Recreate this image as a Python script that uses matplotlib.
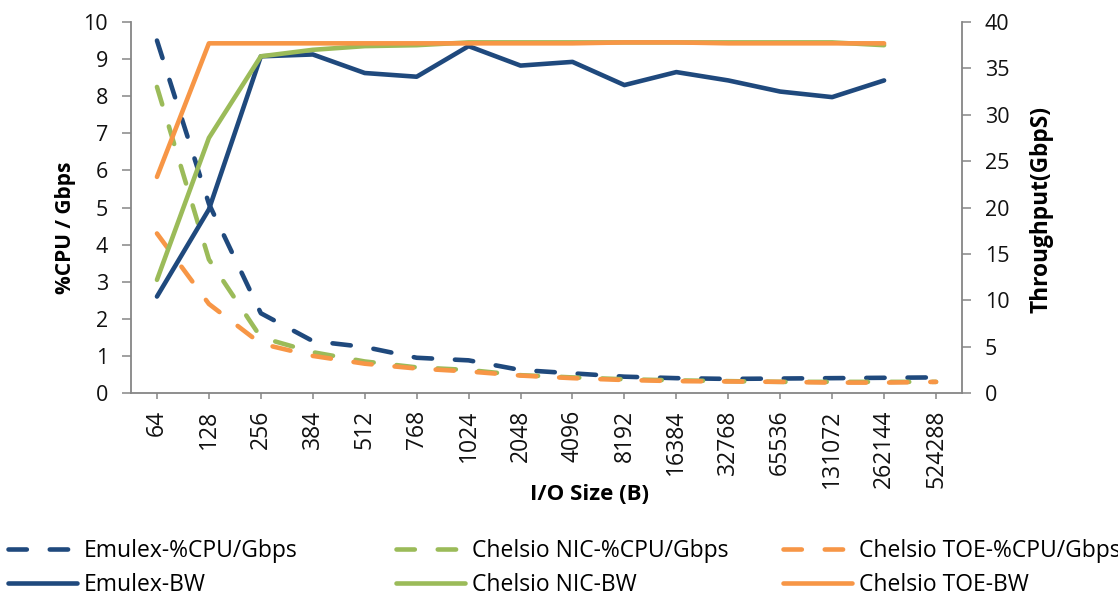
import numpy as np
import matplotlib
matplotlib.use("Agg")
import matplotlib.pyplot as plt
from matplotlib.lines import Line2D

plt.rcParams['font.family'] = ['Open Sans', 'DejaVu Sans']

# I/O sizes (bytes)
sizes = ['64', '128', '256', '384', '512', '768', '1024', '2048', '4096', '8192',
         '16384', '32768', '65536', '131072', '262144', '524288']

# %CPU per Gbps (left axis)
emulex_cpu = [9.5, 5.1, 2.15, 1.4, 1.24, 0.95, 0.88, 0.62, 0.53, 0.44,
              0.40, 0.38, 0.39, 0.40, 0.41, 0.42]
nic_cpu = [8.25, 3.6, 1.5, 1.1, 0.85, 0.69, 0.62, 0.48, 0.42, 0.37,
           0.34, 0.32, 0.30, 0.30, 0.30, 0.30]
toe_cpu = [4.3, 2.4, 1.33, 1.0, 0.79, 0.66, 0.58, 0.47, 0.40, 0.35,
           0.32, 0.31, 0.30, 0.28, 0.28, 0.30]

# throughput Gbps (right axis), no value for the last size
emulex_bw = [10.4, 19.8, 36.3, 36.5, 34.5, 34.1, 37.4, 35.3, 35.7, 33.2,
             34.6, 33.7, 32.5, 31.9, 33.7]
nic_bw = [12.2, 27.5, 36.3, 37.0, 37.4, 37.5, 37.8, 37.8, 37.8, 37.8,
          37.8, 37.8, 37.8, 37.8, 37.5]
toe_bw = [23.3, 37.7, 37.7, 37.7, 37.7, 37.7, 37.7, 37.7, 37.7, 37.8,
          37.8, 37.7, 37.7, 37.7, 37.7]

BLUE = '#1F497D'
GREEN = '#9BBB59'
ORANGE = '#F79646'
GRAY = '#868686'

W, H = 1118, 599
fig = plt.figure(figsize=(W / 100, H / 100), dpi=100)
L, R, T, B = 131, 962, 22, 393
ax = fig.add_axes([L / W, 1 - B / H, (R - L) / W, (B - T) / H])
ax2 = ax.twinx()

x = np.arange(len(sizes))
lw = 3.3
dash_kw = dict(lw=lw, dashes=(4, 5), dash_capstyle='round')
solid_kw = dict(lw=lw, solid_capstyle='round', solid_joinstyle='round')

ax.plot(x, emulex_cpu, color=BLUE, **dash_kw)
ax.plot(x, nic_cpu, color=GREEN, **dash_kw)
ax.plot(x, toe_cpu, color=ORANGE, **dash_kw)

xb = np.arange(len(emulex_bw))
ax2.plot(xb, emulex_bw, color=BLUE, **solid_kw)
ax2.plot(xb, nic_bw, color=GREEN, **solid_kw)
ax2.plot(xb, toe_bw, color=ORANGE, **solid_kw)

ax.set_xlim(-0.5, len(sizes) - 0.5)
ax.set_ylim(0, 10)
ax2.set_ylim(0, 40)
ax.set_yticks(range(0, 11))
ax2.set_yticks(range(0, 41, 5))
ax.set_xticks(x)
ax.set_xticklabels(sizes, rotation=90, fontsize=16.5)

for a in (ax, ax2):
    for s in a.spines.values():
        s.set_visible(False)
ax.spines['left'].set_visible(True)
ax.spines['bottom'].set_visible(True)
ax2.spines['right'].set_visible(True)
for s in (ax.spines['left'], ax.spines['bottom'], ax2.spines['right']):
    s.set_color(GRAY)
    s.set_linewidth(1.3)

ax.tick_params(axis='y', length=6.5, width=1.1, color=GRAY, pad=10, labelsize=15.5, labelcolor='#111111')
ax.tick_params(axis='x', length=4, width=1.1, color=GRAY, pad=8, labelcolor='#111111')
ax2.tick_params(axis='y', length=6.5, width=1.1, color=GRAY, pad=10, labelsize=15.5, labelcolor='#111111')

def px(xp, yp):
    return xp / W, 1 - yp / H

fig.text(*px(65, 228), '%CPU / Gbps', rotation=90, ha='center', va='center',
         fontsize=15, fontweight='bold')
fig.text(*px(1041, 210), 'Throughput(GbpS)', rotation=90, ha='center', va='center',
         fontsize=16.3, fontweight='bold')
fig.text(*px(590, 494), 'I/O Size (B)', ha='center', va='center',
         fontsize=16, fontweight='bold')

# legend: three columns, each with a dashed and a solid entry
legend_cols = [
    (8, BLUE, 'Emulex-%CPU/Gbps', 'Emulex-BW'),
    (396, GREEN, 'Chelsio NIC-%CPU/Gbps', 'Chelsio NIC-BW'),
    (783, ORANGE, 'Chelsio TOE-%CPU/Gbps', 'Chelsio TOE-BW'),
]
for xl, c, lab1, lab2 in legend_cols:
    handles = [Line2D([], [], color=c, **dash_kw), Line2D([], [], color=c, **solid_kw)]
    fig.legend(handles, [lab1, lab2], loc='center left', bbox_to_anchor=px(xl, 568),
               frameon=False, fontsize=16.5, handlelength=3.0, handletextpad=0.3,
               labelspacing=0.42, borderpad=0, borderaxespad=0)

fig.savefig('out.png', dpi=100)
